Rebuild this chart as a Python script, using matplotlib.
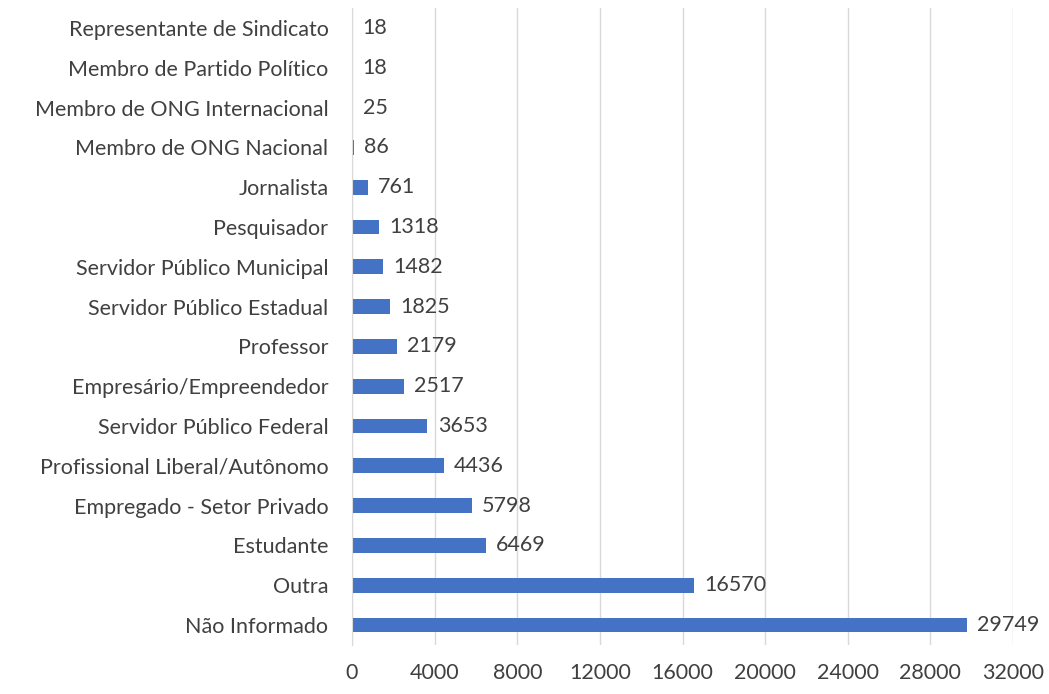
import matplotlib
matplotlib.use("Agg")
import matplotlib.pyplot as plt

categories = ["Não Informado", "Outra", "Estudante", "Empregado - Setor Privado",
              "Profissional Liberal/Autônomo", "Servidor Público Federal",
              "Empresário/Empreendedor", "Professor", "Servidor Público Estadual",
              "Servidor Público Municipal", "Pesquisador", "Jornalista",
              "Membro de ONG Nacional", "Membro de ONG Internacional",
              "Membro de Partido Político", "Representante de Sindicato"]
values = [29749, 16570, 6469, 5798, 4436, 3653, 2517, 2179, 1825, 1482, 1318, 761, 86, 25, 18, 18]
xticks = [0, 4000, 8000, 12000, 16000, 20000, 24000, 28000, 32000]

plt.rcParams['font.family'] = ['Lato', 'DejaVu Sans']
text_color = '#404040'

fig = plt.figure(figsize=(10.49, 6.94), dpi=100)
ax = fig.add_axes([0.3356, 0.0706, 0.6301, 0.9179])
y = list(range(len(categories)))
ax.barh(y, values, height=0.37, color='#4472C4', zorder=3)
for yi, v in zip(y, values):
    ax.text(v + 500, yi, str(v), va='center', ha='left', fontsize=15.5, color=text_color)
ax.set_ylim(-0.5, len(categories) - 0.5)
ax.set_xlim(0, 32000)
ax.set_xticks(xticks)
ax.set_xticklabels([str(t) for t in xticks])
ax.set_yticks(y)
ax.set_yticklabels(categories)
ax.tick_params(axis='both', length=0, labelsize=15.5, labelcolor=text_color)
ax.tick_params(axis='x', pad=13)
ax.tick_params(axis='y', pad=17)
ax.grid(axis='x', color='#D9D9D9', linewidth=1, zorder=0)
for s in ['top', 'right', 'bottom']:
    ax.spines[s].set_visible(False)
ax.spines['left'].set_color('#D9D9D9')
ax.spines['left'].set_zorder(4)
fig.savefig('out.png', dpi=100)
